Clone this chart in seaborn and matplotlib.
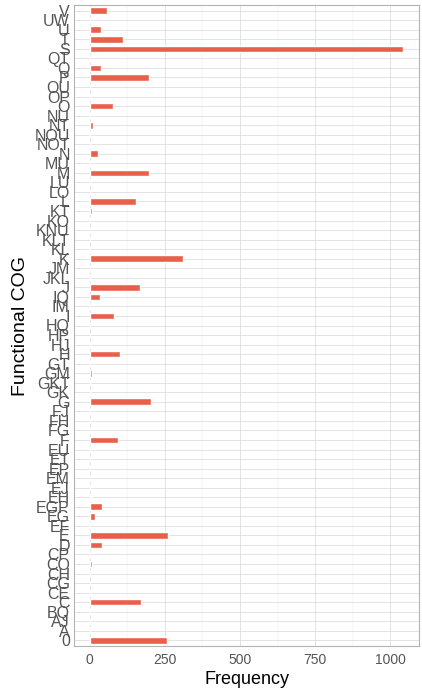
import matplotlib
matplotlib.use("Agg")
import matplotlib.pyplot as plt
import seaborn as sns
import pandas as pd
from matplotlib.ticker import MultipleLocator

# Functional COG categories, listed from the top of the axis down
categories = [
    "V", "UW", "U", "T", "S", "QT", "Q", "P", "OU", "OP", "O",
    "NU", "NT", "NOU", "NOT", "N", "MU", "M", "LU", "LO", "L",
    "KT", "KO", "KNU", "KLT", "KL", "K", "JM", "JKL", "J",
    "IQ", "IM", "I", "HQ", "HP", "HJ", "H",
    "GT", "GM", "GKT", "GK", "G", "FJ", "FH", "FG", "F",
    "EU", "ET", "EP", "EM", "EJ", "EH", "EGP", "EG", "EF", "E",
    "D", "CP", "CO", "CH", "CG", "CE", "C", "BQ", "AJ", "A", "0",
]
frequency = [
    56, 1, 36, 111, 1043, 1, 38, 197, 1, 1, 78,
    1, 10, 1, 1, 27, 1, 197, 1, 1, 154,
    9, 1, 1, 1, 1, 309, 1, 1, 168,
    33, 1, 82, 1, 1, 1, 102,
    1, 9, 1, 1, 203, 1, 1, 1, 94,
    1, 1, 1, 1, 1, 4, 40, 19, 1, 262,
    40, 1, 7, 1, 1, 1, 172, 1, 1, 1, 256,
]

df = pd.DataFrame({"COG": categories, "Frequency": frequency})

sns.set_theme(style="white")
plt.rcParams["font.family"] = ["Liberation Sans", "DejaVu Sans"]

fig = plt.figure(figsize=(4.22, 6.98), dpi=100)
ax = fig.add_axes([74 / 422, 52 / 698, 345 / 422, 641 / 698])

sns.barplot(data=df, x="Frequency", y="COG", order=categories,
            color="#E8604A", width=0.7, saturation=1, ax=ax, zorder=3)

n = len(categories)
ax.set_ylim(n - 0.4, -0.6)
xmax = max(frequency)
ax.set_xlim(-0.05 * xmax, 1.05 * xmax)
ax.xaxis.set_major_locator(MultipleLocator(250))
ax.xaxis.set_minor_locator(MultipleLocator(125))

ax.grid(True, which="major", color="#DEDEDE", linewidth=0.6, zorder=0)
ax.grid(True, which="minor", axis="x", color="#EDEDED", linewidth=0.35, zorder=0)
ax.set_axisbelow(True)

for s in ax.spines.values():
    s.set_color("#B3B3B3")
    s.set_linewidth(0.8)

ax.tick_params(axis="both", which="major", length=2.5, width=0.6,
               color="#B3B3B3", labelcolor="#555555")
ax.tick_params(axis="y", labelsize=11.5, pad=0.5)
ax.tick_params(axis="x", labelsize=10, pad=2.5)
ax.tick_params(axis="x", which="minor", length=0)

ax.set_xlabel("Frequency", fontsize=13, color="black", labelpad=3)
ax.set_ylabel("Functional COG", fontsize=14, color="black", labelpad=4)

fig.savefig("out.png", dpi=100)
